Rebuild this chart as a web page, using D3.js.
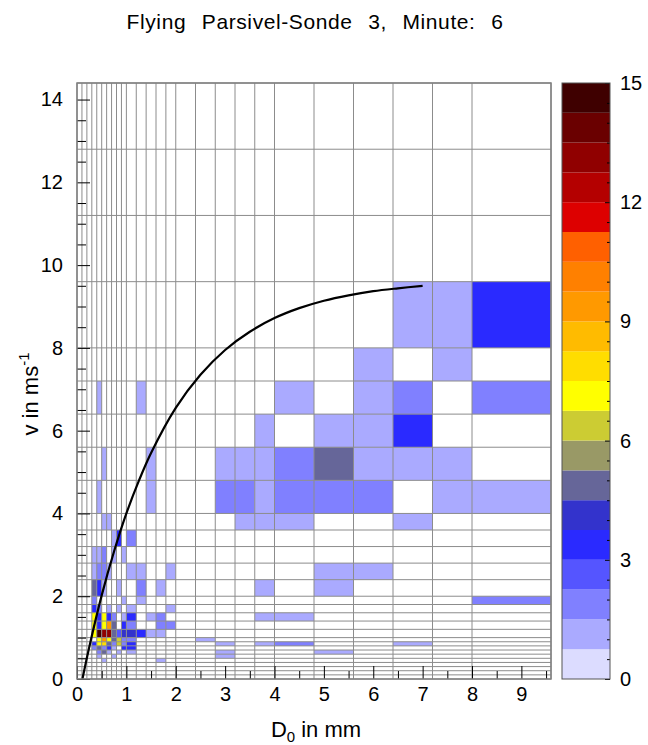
<!DOCTYPE html>
<html>
<head>
<meta charset="utf-8">
<script src="https://cdn.jsdelivr.net/npm/d3@7/dist/d3.min.js"></script>
<style>
    body { margin: 0; background: #fff; }
    text { font-family: "Liberation Sans", Arial, sans-serif; fill: #000; }
</style>
</head>
<body>
<div id="chart"></div>
<script>
// class bounds, same set used on both axes (m/s classes of the Parsivel)
var classEdges = [0, 0.1, 0.2, 0.3, 0.4, 0.5, 0.6, 0.7, 0.8, 0.9, 1.0,
                  1.2, 1.4, 1.6, 1.8, 2.0, 2.4, 2.8, 3.2, 3.6, 4.0,
                  4.8, 5.6, 6.4, 7.2, 8.0, 9.6, 11.2, 12.8, 14.4];

// non-empty cells: [lower D bound, lower v bound, value]
var cells = [
    [6.4, 8.0, 1], [7.2, 8.0, 1], [8.0, 8.0, 3],
    [5.6, 7.2, 1], [7.2, 7.2, 1],
    [0.4, 6.4, 1], [1.2, 6.4, 1], [4.0, 6.4, 1], [5.6, 6.4, 1], [6.4, 6.4, 2], [8.0, 6.4, 2],
    [3.6, 5.6, 1], [4.8, 5.6, 1], [5.6, 5.6, 1], [6.4, 5.6, 3],
    [0.5, 4.8, 1], [1.4, 4.8, 1], [2.8, 4.8, 1], [3.2, 4.8, 1], [3.6, 4.8, 1], [4.0, 4.8, 2],
    [4.8, 4.8, 5], [5.6, 4.8, 1], [6.4, 4.8, 1], [7.2, 4.8, 1],
    [0.4, 4.0, 1], [1.4, 4.0, 1], [2.8, 4.0, 2], [3.2, 4.0, 2], [3.6, 4.0, 1], [4.0, 4.0, 2],
    [4.8, 4.0, 2], [5.6, 4.0, 2], [7.2, 4.0, 1], [8.0, 4.0, 1],
    [0.5, 3.6, 1], [0.6, 3.6, 1], [3.2, 3.6, 1], [3.6, 3.6, 1], [4.0, 3.6, 1], [6.4, 3.6, 1],
    [0.7, 3.2, 1], [0.8, 3.2, 3], [1.0, 3.2, 2],
    [0.3, 2.8, 1], [0.4, 2.8, 1], [0.5, 2.8, 2], [0.7, 2.8, 1], [0.9, 2.8, 1],
    [0.3, 2.4, 1], [0.4, 2.4, 2], [0.5, 2.4, 2], [0.6, 2.4, 1], [1.0, 2.4, 1], [1.2, 2.4, 1],
    [1.8, 2.4, 1], [4.8, 2.4, 1], [5.6, 2.4, 1],
    [0.3, 2.0, 5], [0.4, 2.0, 3], [0.5, 2.0, 1], [0.8, 2.0, 1], [1.2, 2.0, 2], [1.6, 2.0, 1],
    [3.6, 2.0, 1], [4.8, 2.0, 1],
    [0.3, 1.8, 2], [0.9, 1.8, 1], [1.2, 1.8, 1], [8.0, 1.8, 2],
    [0.3, 1.6, 3], [0.4, 1.6, 2], [0.6, 1.6, 1], [0.8, 1.6, 1], [1.0, 1.6, 1], [1.8, 1.6, 1],
    [0.3, 1.4, 7], [0.4, 1.4, 3], [0.5, 1.4, 7], [0.6, 1.4, 3], [0.7, 1.4, 2], [0.9, 1.4, 1],
    [1.0, 1.4, 3], [1.4, 1.4, 1], [1.6, 1.4, 2], [3.6, 1.4, 1], [4.0, 1.4, 1],
    [0.3, 1.2, 7], [0.4, 1.2, 3], [0.5, 1.2, 7], [0.6, 1.2, 9], [0.7, 1.2, 5], [0.9, 1.2, 3],
    [1.0, 1.2, 2], [1.6, 1.2, 2], [1.8, 1.2, 2],
    [0.3, 1.0, 7], [0.4, 1.0, 15], [0.5, 1.0, 13], [0.6, 1.0, 13], [0.7, 1.0, 5], [0.8, 1.0, 2.5],
    [0.9, 1.0, 4], [1.0, 1.0, 4], [1.2, 1.0, 3], [1.4, 1.0, 1], [1.6, 1.0, 1],
    [0.4, 0.9, 7], [0.5, 0.9, 9], [0.6, 0.9, 7], [0.7, 0.9, 5], [0.8, 0.9, 6.5], [0.9, 0.9, 2],
    [1.0, 0.9, 2], [2.4, 0.9, 1],
    [0.3, 0.8, 3], [0.4, 0.8, 7], [0.5, 0.8, 8], [0.6, 0.8, 5], [0.7, 0.8, 2], [0.8, 0.8, 6.5],
    [0.9, 0.8, 2], [1.0, 0.8, 3], [2.8, 0.8, 1], [3.6, 0.8, 1], [4.0, 0.8, 2], [6.4, 0.8, 1],
    [0.3, 0.7, 2], [0.4, 0.7, 5], [0.5, 0.7, 2], [0.6, 0.7, 3], [0.7, 0.7, 1], [0.9, 0.7, 3], [1.0, 0.7, 3],
    [0.4, 0.6, 2], [0.5, 0.6, 5], [0.6, 0.6, 1], [0.8, 0.6, 1], [1.0, 0.6, 1], [2.8, 0.6, 1], [4.8, 0.6, 1],
    [0.4, 0.5, 1], [0.7, 0.5, 1], [2.8, 0.5, 1],
    [0.5, 0.4, 1], [1.6, 0.4, 1]
];

// fall speed curve
var curveD = [0.11, 0.25, 0.5, 0.75, 1.0, 1.25, 1.5, 2.0, 2.5, 3.0, 3.5, 4.0, 4.5, 5.0, 5.5, 6.0, 6.5, 7.0];
var curveV = [0.0, 0.78, 2.02, 3.08, 4.0, 4.78, 5.46, 6.55, 7.35, 7.95, 8.39, 8.72, 8.96, 9.14, 9.27, 9.37, 9.44, 9.5];

var xTicks = [0, 1, 2, 3, 4, 5, 6, 7, 8, 9];
var yTicks = [0, 2, 4, 6, 8, 10, 12, 14];
var cbarTicks = [0, 3, 6, 9, 12, 15];

// 20 colour levels from 0 to 15
var cbarColors = ["#dcdcff", "#aaaaff", "#8080ff", "#5555ff", "#2a2aff", "#3333cc", "#666699",
                  "#999966", "#cccc33", "#ffff00", "#ffdd00", "#ffbb00", "#ff9900", "#ff8000",
                  "#ff6000", "#dd0000", "#b40000", "#900000", "#6a0000", "#3f0000"];

(function() {
    var width = 648,
        height = 745,
        plotLeft = 77,
        plotRight = 551,
        plotTop = 83,
        plotBottom = 679,
        gridColor = "#8c8c8c",
        fontStack = "'Liberation Sans', Arial, sans-serif";

    var svg = d3.select("#chart").append("svg")
                .attr("width", width)
                .attr("height", height);

    var x = d3.scaleLinear().domain([0, 9.6]).range([plotLeft, plotRight]);
    var y = d3.scaleLinear().domain([0, 14.4]).range([plotBottom, plotTop]);
    var color = d3.scaleQuantize().domain([0, 15]).range(cbarColors);

    function nextEdge(v) {
        var i = classEdges.indexOf(v);
        return classEdges[i + 1];
    }

    svg.append("rect")
       .attr("x", plotLeft).attr("y", plotTop)
       .attr("width", plotRight - plotLeft).attr("height", plotBottom - plotTop)
       .style("fill", "#fff");

    svg.append("g").selectAll("rect")
       .data(cells)
       .enter()
       .append("rect")
       .attr("x", function(d) { return x(d[0]); })
       .attr("y", function(d) { return y(nextEdge(d[1])); })
       .attr("width", function(d) { return x(nextEdge(d[0])) - x(d[0]); })
       .attr("height", function(d) { return y(d[1]) - y(nextEdge(d[1])); })
       .style("fill", function(d) { return color(Math.min(d[2], 14.99)); });

    var xEdges = classEdges.filter(function(e) { return e <= 9.6; });

    svg.append("g").selectAll("line")
       .data(xEdges)
       .enter()
       .append("line")
       .attr("x1", function(d) { return x(d); })
       .attr("x2", function(d) { return x(d); })
       .attr("y1", plotTop).attr("y2", plotBottom)
       .style("stroke", gridColor).style("stroke-width", 1);

    svg.append("g").selectAll("line")
       .data(classEdges)
       .enter()
       .append("line")
       .attr("y1", function(d) { return y(d); })
       .attr("y2", function(d) { return y(d); })
       .attr("x1", plotLeft).attr("x2", plotRight)
       .style("stroke", gridColor).style("stroke-width", 1);

    var line = d3.line()
                 .x(function(d) { return x(d[0]); })
                 .y(function(d) { return y(d[1]); })
                 .curve(d3.curveCatmullRom);

    svg.append("path")
       .datum(d3.zip(curveD, curveV))
       .attr("d", line)
       .style("fill", "none")
       .style("stroke", "#000")
       .style("stroke-width", 2.2);

    // ticks: minor every 0.5, major at labels
    var xMinor = d3.range(0, 9.51, 0.5).filter(function(v) { return v % 1 !== 0; });
    var yMinor = d3.range(0, 14.01, 0.5).filter(function(v) { return v % 2 !== 0; });

    svg.append("g")
       .attr("transform", "translate(0," + plotBottom + ")")
       .call(d3.axisBottom(x).tickValues(xMinor).tickSize(-8).tickFormat(""))
       .call(function(g) { g.select(".domain").remove(); });

    svg.append("g")
       .attr("class", "xAxis")
       .attr("transform", "translate(0," + plotBottom + ")")
       .call(d3.axisBottom(x).tickValues(xTicks).tickSize(-13).tickPadding(8))
       .call(function(g) { g.select(".domain").remove(); });

    svg.append("g")
       .attr("transform", "translate(" + plotLeft + ",0)")
       .call(d3.axisLeft(y).tickValues(yMinor).tickSize(-9).tickFormat(""))
       .call(function(g) { g.select(".domain").remove(); });

    svg.append("g")
       .attr("class", "yAxis")
       .attr("transform", "translate(" + plotLeft + ",0)")
       .call(d3.axisLeft(y).tickValues(yTicks).tickSize(-13).tickPadding(14))
       .call(function(g) { g.select(".domain").remove(); });

    svg.append("rect")
       .attr("x", plotLeft).attr("y", plotTop)
       .attr("width", plotRight - plotLeft).attr("height", plotBottom - plotTop)
       .style("fill", "none")
       .style("stroke", "#808080")
       .style("stroke-width", 1.5);

    // colour bar
    var cbLeft = 562,
        cbRight = 610;
    var cy = d3.scaleLinear().domain([0, 15]).range([plotBottom, plotTop]);
    var step = 15 / cbarColors.length;

    svg.append("g").selectAll("rect")
       .data(cbarColors)
       .enter()
       .append("rect")
       .attr("x", cbLeft)
       .attr("width", cbRight - cbLeft)
       .attr("y", function(d, i) { return cy((i + 1) * step); })
       .attr("height", function(d, i) { return cy(i * step) - cy((i + 1) * step); })
       .style("fill", function(d) { return d; });

    var cbMinor = d3.range(0, 15.01, 0.5).filter(function(v) { return v % 3 !== 0; });

    svg.append("g")
       .attr("transform", "translate(" + cbRight + ",0)")
       .call(d3.axisRight(cy).tickValues(cbMinor).tickSize(-3).tickFormat(""))
       .call(function(g) { g.select(".domain").remove(); });

    svg.append("g")
       .attr("class", "cAxis")
       .attr("transform", "translate(" + cbRight + ",0)")
       .call(d3.axisRight(cy).tickValues(cbarTicks).tickSize(-5).tickPadding(10))
       .call(function(g) { g.select(".domain").remove(); });

    svg.append("rect")
       .attr("x", cbLeft).attr("y", plotTop)
       .attr("width", cbRight - cbLeft).attr("height", plotBottom - plotTop)
       .style("fill", "none")
       .style("stroke", "#555")
       .style("stroke-width", 1);

    svg.selectAll(".xAxis text, .yAxis text, .cAxis text")
       .style("font-size", "20px")
       .style("font-family", fontStack);
    svg.selectAll(".tick line").style("stroke", "#000");

    // title: spread the words out to the width seen in the original
    var title = svg.append("text")
       .attr("x", 315).attr("y", 29)
       .attr("text-anchor", "middle")
       .style("font-size", "21px")
       .style("letter-spacing", "0.6px")
       .text("Flying Parsivel-Sonde 3, Minute: 6");
    var titleLen = title.node().getComputedTextLength();
    title.style("word-spacing", Math.max(0, (386 - titleLen) / 5) + "px");

    var xLabel = svg.append("text")
       .attr("x", 316).attr("y", 737)
       .attr("text-anchor", "middle")
       .style("font-size", "22px");
    xLabel.append("tspan").text("D");
    xLabel.append("tspan").attr("dy", 5).style("font-size", "15px").text("0");
    xLabel.append("tspan").attr("dy", -5).text(" in mm");

    var yLabel = svg.append("text")
       .attr("transform", "translate(38,394) rotate(-90)")
       .attr("text-anchor", "middle")
       .style("font-size", "22px");
    yLabel.append("tspan").text("v in ms");
    yLabel.append("tspan").attr("dy", -9).style("font-size", "15px").text("-1");
})();
</script>
</body>
</html>
